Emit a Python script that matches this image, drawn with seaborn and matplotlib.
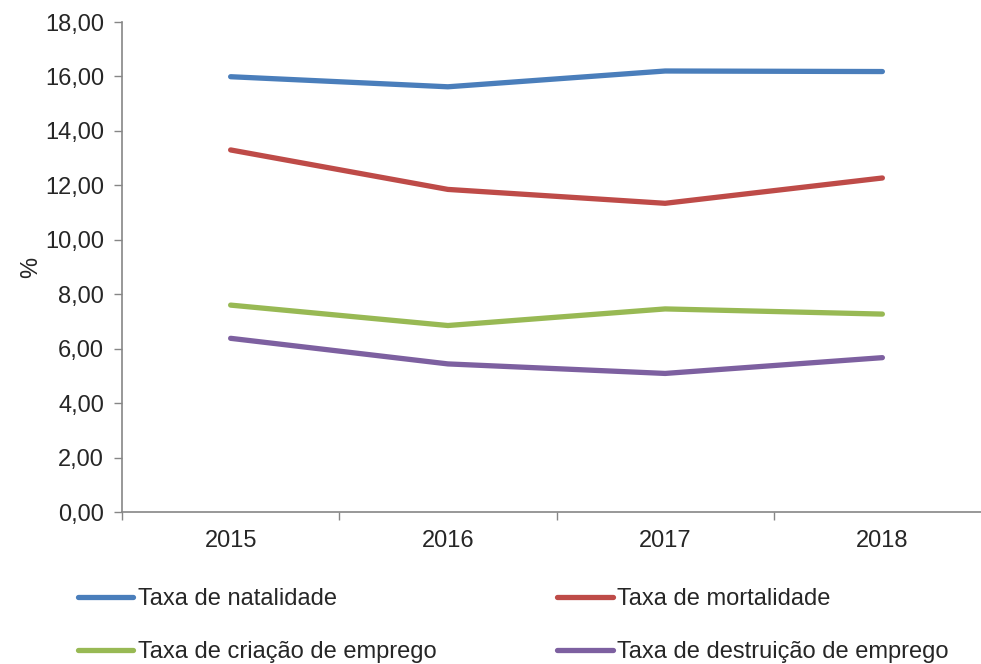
import matplotlib
matplotlib.use("Agg")
import matplotlib.pyplot as plt
import seaborn as sns
import pandas as pd
from matplotlib.ticker import FuncFormatter, FixedLocator

years = ["2015", "2016", "2017", "2018"]
natalidade = [15.99, 15.62, 16.20, 16.18]
mortalidade = [13.30, 11.85, 11.34, 12.27]
criacao = [7.60, 6.85, 7.46, 7.27]
destruicao = [6.38, 5.44, 5.09, 5.67]
series_names = ["Taxa de natalidade", "Taxa de mortalidade",
                "Taxa de criação de emprego", "Taxa de destruição de emprego"]
colors = ["#4A7EBB", "#BE4B48", "#98B954", "#7D60A0"]

rows = []
for name, vals in zip(series_names, [natalidade, mortalidade, criacao, destruicao]):
    for i, (y, v) in enumerate(zip(years, vals)):
        rows.append({"pos": i, "Ano": y, "Serie": name, "Valor": v})
df = pd.DataFrame(rows)

sns.set_style("white")
plt.rcParams['font.family'] = ['Liberation Sans', 'DejaVu Sans']
FS = 17

fig = plt.figure(figsize=(9.81, 6.64), dpi=100)
ax = fig.add_axes([122/981, 1 - 512/664, (991-122)/981, (512-22)/664])

sns.lineplot(data=df, x="pos", y="Valor", hue="Serie", hue_order=series_names,
             palette=colors, linewidth=3.8, ax=ax, legend=True)
for ln in ax.get_lines():
    ln.set_solid_capstyle("round")
    ln.set_solid_joinstyle("round")

ax.set_xlim(-0.5, 3.5)
ax.set_ylim(0, 18)
ax.set_yticks(range(0, 19, 2))
ax.yaxis.set_major_formatter(FuncFormatter(lambda v, p: f"{v:.2f}".replace(".", ",")))
ax.set_xticks(range(len(years)))
ax.set_xticklabels(years)
ax.xaxis.set_minor_locator(FixedLocator([-0.5, 0.5, 1.5, 2.5, 3.5]))
ax.tick_params(axis="x", which="major", length=0, labelsize=FS, pad=13)
ax.tick_params(axis="x", which="minor", length=6, width=1, color="#868686", direction="out", bottom=True)
ax.tick_params(axis="y", which="major", length=6, width=1, color="#868686", direction="out", left=True, labelsize=FS, pad=7)
ax.set_xlabel("")
ax.set_ylabel("%", fontsize=FS, labelpad=2)
for s in ["top", "right"]:
    ax.spines[s].set_visible(False)
for s in ["left", "bottom"]:
    ax.spines[s].set_color("#868686")
    ax.spines[s].set_linewidth(1.2)

handles, labels = ax.get_legend_handles_labels()
ax.get_legend().remove()
for h in handles:
    h.set_linewidth(3.8)
    h.set_solid_capstyle("round")
order = [0, 2, 1, 3]
leg = fig.legend([handles[i] for i in order], [labels[i] for i in order],
                 loc="upper left", bbox_to_anchor=(78/981, 1 - 588/664),
                 ncol=2, frameon=False, fontsize=FS, handlelength=2.35, handletextpad=0.2,
                 columnspacing=5.1, labelspacing=1.33, borderaxespad=0, borderpad=0)

fig.savefig("out.png", dpi=100)
